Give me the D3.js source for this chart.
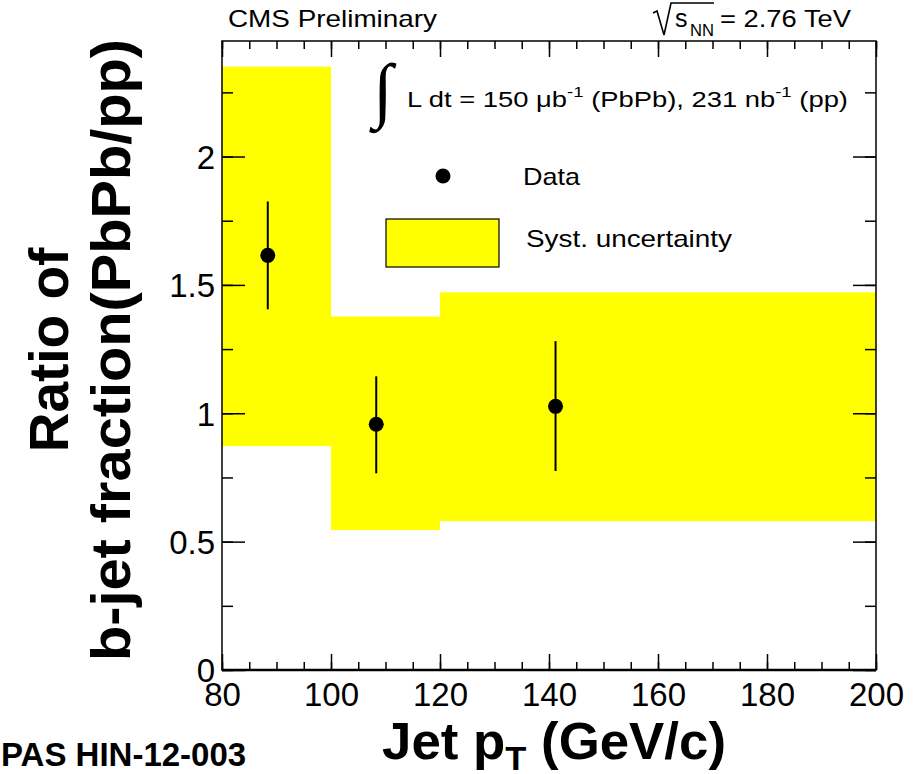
<!DOCTYPE html>
<html>
<head>
<meta charset="utf-8">
<script src="https://cdn.jsdelivr.net/npm/d3@7"></script>
<style>
  body { margin: 0; background: #fff; }
  svg { display: block; font-family: "Liberation Sans", Arial, sans-serif; }
  .axis path, .axis line { stroke: #000; }
  .axis text { font-family: "Liberation Sans", Arial, sans-serif; fill: #000; }
</style>
</head>
<body>
<svg id="root" width="921" height="774"></svg>
<script>
// bins of the systematic band
const binEdges = [80, 100, 120, 200]
const systLow = [0.872, 0.545, 0.58]
const systHigh = [2.35, 1.377, 1.471]

// data points with stat errors
const ptCenters = [88.4, 108.3, 141.2]
const ratio = [1.615, 0.957, 1.027]
const errLow = [1.405, 0.766, 0.775]
const errHigh = [1.825, 1.144, 1.281]

const xTicks = [80, 100, 120, 140, 160, 180, 200]
const yTicks = [0, 0.5, 1, 1.5, 2]

const root = d3.select('#root')
const L = 222, R = 876, T = 41, B = 670

const x = d3.scaleLinear().domain([80, 200]).range([L, R])
const y = d3.scaleLinear().domain([0, 2.45]).range([B, T])

// syst band
root.selectAll('rect.syst')
  .data(systLow)
  .enter().append('rect')
  .attr('class', 'syst')
  .attr('x', (d, i) => x(binEdges[i]))
  .attr('width', (d, i) => x(binEdges[i + 1]) - x(binEdges[i]))
  .attr('y', (d, i) => y(systHigh[i]))
  .attr('height', (d, i) => y(d) - y(systHigh[i]))
  .attr('fill', '#ffff00')

// frame
root.append('rect')
  .attr('x', L).attr('y', T)
  .attr('width', R - L).attr('height', B - T)
  .attr('fill', 'none').attr('stroke', '#000').attr('stroke-width', 1.5)

const minorX = d3.range(80, 201, 5)
const minorY = d3.range(0, 2.45, 0.25)

function addAxis (axis, tx, ty) {
  const g = root.append('g').attr('class', 'axis')
    .attr('transform', `translate(${tx},${ty})`)
    .call(axis)
  g.select('.domain').remove()
  g.selectAll('line').attr('stroke-width', 1.5)
  return g
}

// bottom
addAxis(d3.axisBottom(x).tickValues(minorX).tickSize(-8).tickFormat(''), 0, B)
const gx = addAxis(d3.axisBottom(x).tickValues(xTicks).tickSize(-16).tickPadding(0).tickFormat(d3.format('d')), 0, B)
gx.selectAll('text').attr('y', 36).attr('dy', 0).attr('font-size', 33)
// top
addAxis(d3.axisTop(x).tickValues(minorX).tickSize(-8).tickFormat(''), 0, T)
addAxis(d3.axisTop(x).tickValues(xTicks).tickSize(-16).tickFormat(''), 0, T)
// left
addAxis(d3.axisLeft(y).tickValues(minorY).tickSize(-11).tickFormat(''), L, 0)
const gy = addAxis(d3.axisLeft(y).tickValues(yTicks).tickSize(-23).tickFormat(d => d), L, 0)
gy.selectAll('text').attr('x', -7).attr('dy', '0.36em').attr('font-size', 33)
// right
addAxis(d3.axisRight(y).tickValues(minorY).tickSize(-11).tickFormat(''), R, 0)
addAxis(d3.axisRight(y).tickValues(yTicks).tickSize(-23).tickFormat(''), R, 0)

root.append('line')
  .attr('x1', L).attr('x2', R).attr('y1', B).attr('y2', B)
  .attr('stroke', '#000').attr('stroke-width', 2.5)

// error bars + markers
root.selectAll('line.err')
  .data(ratio)
  .enter().append('line')
  .attr('class', 'err')
  .attr('x1', (d, i) => x(ptCenters[i]))
  .attr('x2', (d, i) => x(ptCenters[i]))
  .attr('y1', (d, i) => y(errLow[i]))
  .attr('y2', (d, i) => y(errHigh[i]))
  .attr('stroke', '#000').attr('stroke-width', 2)

root.selectAll('circle.pt')
  .data(ratio)
  .enter().append('circle')
  .attr('class', 'pt')
  .attr('cx', (d, i) => x(ptCenters[i]))
  .attr('cy', d => y(d))
  .attr('r', 7.5)
  .attr('fill', '#000')

// legend
root.append('circle').attr('cx', 443).attr('cy', 176).attr('r', 7.5).attr('fill', '#000')
root.append('text').attr('x', 523).attr('y', 185).attr('font-size', 24)
  .attr('textLength', 57).attr('lengthAdjust', 'spacingAndGlyphs').text('Data')
root.append('rect').attr('x', 386).attr('y', 219).attr('width', 113).attr('height', 48)
  .attr('fill', '#ffff00').attr('stroke', '#000').attr('stroke-width', 1.2)
root.append('text').attr('x', 526).attr('y', 247).attr('font-size', 24)
  .attr('textLength', 206).attr('lengthAdjust', 'spacingAndGlyphs').text('Syst. uncertainty')

// luminosity
root.append('text').attr('x', 373).attr('y', 114).attr('font-size', 72)
  .attr('font-family', 'DejaVu Sans').attr('font-weight', 200).text('∫')
const lum = root.append('text').attr('x', 407).attr('y', 107).attr('font-size', 22)
  .attr('textLength', 441).attr('lengthAdjust', 'spacingAndGlyphs')
lum.append('tspan').text('L dt = 150 μb')
lum.append('tspan').attr('dy', -10).attr('font-size', 15).text('-1')
lum.append('tspan').attr('dy', 10).text(' (PbPb), 231 nb')
lum.append('tspan').attr('dy', -10).attr('font-size', 15).text('-1')
lum.append('tspan').attr('dy', 10).text(' (pp)')

// header
root.append('text').attr('x', 228).attr('y', 27).attr('font-size', 24)
  .attr('textLength', 209).attr('lengthAdjust', 'spacingAndGlyphs').text('CMS Preliminary')
root.append('path')
  .attr('d', 'M653,13 L657,11 L664,35 L671,3 L714,3')
  .attr('fill', 'none').attr('stroke', '#000').attr('stroke-width', 1.6)
root.append('text').attr('x', 675).attr('y', 27).attr('font-size', 25).text('s')
root.append('text').attr('x', 690).attr('y', 36).attr('font-size', 17)
  .attr('textLength', 24).attr('lengthAdjust', 'spacingAndGlyphs').text('NN')
root.append('text').attr('x', 720).attr('y', 27).attr('font-size', 24)
  .attr('textLength', 131).attr('lengthAdjust', 'spacingAndGlyphs').text('= 2.76 TeV')

// axis titles
const xt = root.append('text').attr('x', 382).attr('y', 759)
  .attr('font-size', 52).attr('font-weight', 'bold')
  .attr('textLength', 344).attr('lengthAdjust', 'spacingAndGlyphs')
xt.append('tspan').text('Jet p')
xt.append('tspan').attr('dy', 11).attr('font-size', 34).text('T')
xt.append('tspan').attr('dy', -11).text(' (GeV/c)')

root.append('text')
  .attr('transform', 'translate(68,350) rotate(-90)')
  .attr('text-anchor', 'middle').attr('font-size', 55).attr('font-weight', 'bold')
  .text('Ratio of')
root.append('text')
  .attr('transform', 'translate(130,350) rotate(-90)')
  .attr('text-anchor', 'middle').attr('font-size', 55).attr('font-weight', 'bold')
  .attr('textLength', 622).attr('lengthAdjust', 'spacingAndGlyphs')
  .text('b-jet fraction(PbPb/pp)')

root.append('text').attr('x', 1).attr('y', 766)
  .attr('font-size', 33).attr('font-weight', 'bold').text('PAS HIN-12-003')
</script>
</body>
</html>
